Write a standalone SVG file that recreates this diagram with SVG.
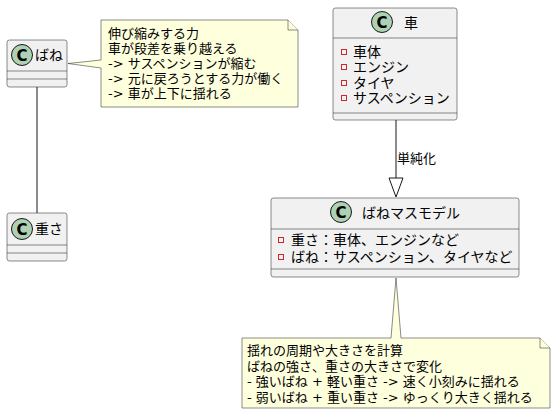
<svg xmlns="http://www.w3.org/2000/svg" width="554" height="415" viewBox="0 0 554 415">
<style>
text{font-family:"DejaVu Sans","Noto Sans CJK JP",sans-serif;fill:#000}
.box{fill:#F1F1F1;stroke:#181818;stroke-width:0.5}
.div{stroke:#181818;stroke-width:0.5}
.circ{fill:#ADD1B2;stroke:#181818;stroke-width:1}
.cl{font-family:"DejaVu Sans",sans-serif;font-weight:bold;font-size:15px;text-anchor:middle}
.title{font-size:14px}
.attr{font-size:14px}
.mk{fill:none;stroke:#C82930;stroke-width:1}
.note{fill:#FEFFDD;stroke:#181818;stroke-width:0.5}
.nt{font-size:13px}
.edge{stroke:#181818;stroke-width:1;fill:none}
</style>
<g id="connectors">
<line class="edge" x1="37" y1="87" x2="37" y2="213"/>
<line class="edge" x1="396" y1="120" x2="396" y2="178"/>
<polygon class="edge" points="389,178 403,178 396,197"/>
<text x="397" y="163" font-size="13px">単純化</text>
</g>
<g id="bane">
<rect class="box" x="7" y="40" width="60" height="47" rx="2.5"/>
<line class="div" x1="7" y1="71" x2="67" y2="71"/>
<line class="div" x1="7" y1="79" x2="67" y2="79"/>
<circle class="circ" cx="22" cy="55" r="10.5"/>
<text class="cl" x="22" y="60.5">C</text>
<text class="title" x="35" y="60">ばね</text>
</g>
<g id="omosa">
<rect class="box" x="7" y="213" width="60" height="48" rx="2.5"/>
<line class="div" x1="7" y1="245" x2="67" y2="245"/>
<line class="div" x1="7" y1="253" x2="67" y2="253"/>
<circle class="circ" cx="22" cy="229" r="10.5"/>
<text class="cl" x="22" y="234.5">C</text>
<text class="title" x="35" y="234">重さ</text>
</g>
<g id="kuruma">
<rect class="box" x="333" y="8" width="124" height="112" rx="2.5"/>
<line class="div" x1="333" y1="38" x2="457" y2="38"/>
<line class="div" x1="333" y1="113" x2="457" y2="113"/>
<circle class="circ" cx="382" cy="22" r="10.5"/>
<text class="cl" x="382" y="27.5">C</text>
<text class="title" x="404" y="28">車</text>
<rect class="mk" x="341.5" y="49.5" width="5" height="5"/>
<text class="attr" x="353" y="57">車体</text>
<rect class="mk" x="341.5" y="64.5" width="5" height="5"/>
<text class="attr" x="353" y="72">エンジン</text>
<rect class="mk" x="341.5" y="80.5" width="5" height="5"/>
<text class="attr" x="353" y="88">タイヤ</text>
<rect class="mk" x="341.5" y="95.5" width="5" height="5"/>
<text class="attr" x="353" y="103">サスペンション</text>
</g>
<g id="model">
<rect class="box" x="271" y="198" width="248" height="79" rx="2.5"/>
<line class="div" x1="271" y1="229" x2="519" y2="229"/>
<line class="div" x1="271" y1="269" x2="519" y2="269"/>
<circle class="circ" cx="341" cy="212" r="10.5"/>
<text class="cl" x="341" y="217.5">C</text>
<text class="title" x="362" y="218">ばねマスモデル</text>
<rect class="mk" x="278.5" y="237.5" width="5" height="5"/>
<text class="attr" x="291" y="245">重さ：車体、エンジンなど</text>
<rect class="mk" x="278.5" y="254.5" width="5" height="5"/>
<text class="attr" x="291" y="262">ばね：サスペンション、タイヤなど</text>
</g>
<g id="note1">
<path class="note" d="M101,20 L288,20 L298,30 L298,107 L101,107 L101,68 L68,63.5 L101,60 Z"/>
<path class="note" d="M288,20 L288,30 L298,30"/>
<text class="nt" x="108" y="37.5">伸び縮みする力</text>
<text class="nt" x="108" y="52.5">車が段差を乗り越える</text>
<text class="nt" x="108" y="67.5">-&gt; サスペンションが縮む</text>
<text class="nt" x="108" y="82.5">-&gt; 元に戻ろうとする力が働く</text>
<text class="nt" x="108" y="97.5">-&gt; 車が上下に揺れる</text>
</g>
<g id="note2">
<path class="note" d="M242,338 L391,338 L396,278 L401,338 L540,338 L550,348 L550,408 L242,408 Z"/>
<path class="note" d="M540,338 L540,348 L550,348"/>
<text class="nt" x="247" y="355">揺れの周期や大きさを計算</text>
<text class="nt" x="247" y="370.5">ばねの強さ、重さの大きさで変化</text>
<text class="nt" x="247" y="386">- 強いばね + 軽い重さ -&gt; 速く小刻みに揺れる</text>
<text class="nt" x="247" y="401.5">- 弱いばね + 重い重さ -&gt; ゆっくり大きく揺れる</text>
</g>
</svg>
